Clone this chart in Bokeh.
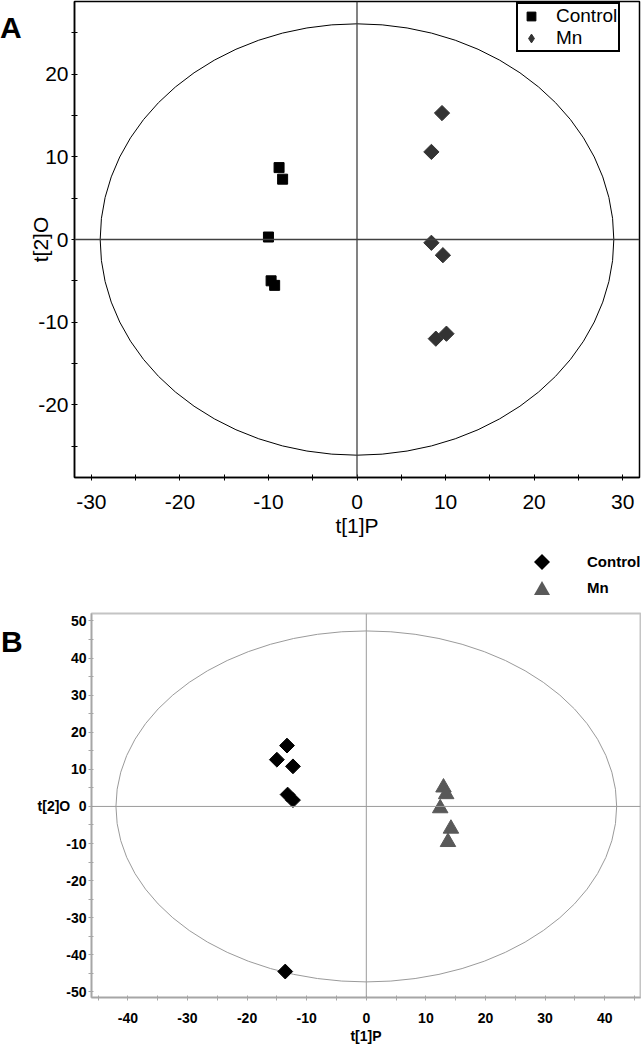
import math
from bokeh.plotting import figure
from bokeh.models import Range1d, FixedTicker, Span, Legend, LegendItem, Div
from bokeh.layouts import column, row
from bokeh.embed import file_html
from bokeh.resources import INLINE

# ---------------- Panel A data ----------------
a_control_x = [-8.8, -8.4, -10.0, -9.7, -9.3]
a_control_y = [8.7, 7.3, 0.3, -5.0, -5.55]
a_mn_x = [9.6, 8.4, 8.4, 9.7, 8.9, 10.1]
a_mn_y = [15.3, 10.6, -0.4, -1.9, -12.0, -11.4]
a_ellipse = [29.0, 26.1]          # semi-axes of Hotelling T2 ellipse
a_xticks = [-30, -20, -10, 0, 10, 20, 30]
a_xminor = [-25, -15, -5, 5, 15, 25]
a_yticks = [-20, -10, 0, 10, 20]
a_yminor = [-25, -15, -5, 5, 15, 25]

# ---------------- Panel B data ----------------
b_control_x = [-13.3, -15.0, -12.3, -13.2, -12.3, -13.6]
b_control_y = [16.4, 12.6, 10.8, 3.2, 1.7, -44.5]
b_mn_x = [12.95, 13.4, 12.4, 14.2, 13.7]
b_mn_y = [5.1, 3.3, -0.5, -6.0, -9.6]
b_ellipse = [42.0, 47.3]
b_xticks = [-40, -30, -20, -10, 0, 10, 20, 30, 40]
b_xminor = [-45, -35, -25, -15, -5, 5, 15, 25, 35, 45]
b_yticks = [-50, -40, -30, -20, -10, 0, 10, 20, 30, 40, 50]
b_yminor = [-45, -35, -25, -15, -5, 5, 15, 25, 35, 45]

FONT = "Liberation Sans"


def style_axis(ax, ticks, minor, color, tin, tout, size, bold):
    ax.ticker = FixedTicker(ticks=ticks, minor_ticks=minor)
    ax.major_label_overrides = {t: str(t) for t in ticks}
    ax.axis_line_color = color
    ax.axis_line_width = 1.5
    ax.major_tick_line_color = color
    ax.minor_tick_line_color = color
    ax.major_tick_in = tin
    ax.major_tick_out = tout
    ax.minor_tick_in = tin
    ax.minor_tick_out = tout
    ax.major_label_text_font = FONT
    ax.major_label_text_font_size = size
    ax.major_label_text_font_style = "bold" if bold else "normal"
    ax.major_label_text_color = "black"
    ax.axis_label_text_font = FONT
    ax.axis_label_text_font_size = size
    ax.axis_label_text_font_style = "bold" if bold else "normal"
    ax.axis_label_text_color = "black"


# ================= Panel A =================
pA = figure(width=615, height=545, x_range=Range1d(-31.9, 31.9), y_range=Range1d(-28.8, 28.8),
            output_backend="svg", toolbar_location=None,
            min_border_left=46, min_border_right=2, min_border_top=1, min_border_bottom=68)
pA.grid.visible = False
pA.outline_line_color = "black"
pA.outline_line_width = 1.5

style_axis(pA.xaxis[0], a_xticks, a_xminor, "black", 3, 3, "21px", False)
style_axis(pA.yaxis[0], a_yticks, a_yminor, "black", 3, 3, "21px", False)
pA.xaxis[0].major_label_standoff = 14
pA.xaxis[0].axis_label = "t[1]P"
pA.xaxis[0].axis_label_standoff = 2
pA.yaxis[0].major_label_standoff = 3
pA.yaxis[0].axis_label = "t[2]O"
pA.yaxis[0].axis_label_standoff = -17

pA.ellipse(x=[0], y=[0], width=[2 * a_ellipse[0]], height=[2 * a_ellipse[1]],
           fill_color=None, line_color="black", line_width=1)
pA.add_layout(Span(location=0, dimension="height", line_color="#404040", line_width=1.3))
pA.add_layout(Span(location=0, dimension="width", line_color="#404040", line_width=1.3))

rA_c = pA.scatter(a_control_x, a_control_y, marker="square", size=10, color="black")
# diamond-shaped key for the legend (sits hidden inside the rotated squares)
rA_m_key = pA.scatter(a_mn_x, a_mn_y, marker="diamond", size=10.8, color="#333333")
rA_m = pA.scatter(a_mn_x, a_mn_y, marker="square", angle=math.pi / 4, size=10.8, color="#333333")

legA = Legend(items=[LegendItem(label="Control", renderers=[rA_c]),
                     LegendItem(label="Mn", renderers=[rA_m_key])],
              location=(442, 425), orientation="vertical",
              border_line_color="black", border_line_width=2, border_line_alpha=1,
              background_fill_color="white", background_fill_alpha=1,
              padding=1, spacing=0, margin=0,
              glyph_width=24, glyph_height=22, label_standoff=13,
              label_width=58, label_height=20,
              label_text_font=FONT, label_text_font_size="19px", label_text_color="black")
pA.add_layout(legA)

divA = Div(width=26, height=545, margin=0,
           text='<svg width="26" height="545" style="display:block">'
                '<text x="0" y="38" font-family="Liberation Sans" font-weight="bold" '
                'font-size="30px" fill="black">A</text></svg>')

# ================= Panel B =================
has_orient = "axis_label_orientation" in figure().yaxis[0].properties()
left_w = 30 if has_orient else 62

pB = figure(width=641 - left_w, height=436, x_range=Range1d(-46.1, 46.0), y_range=Range1d(-51.5, 52.0),
            output_backend="svg", toolbar_location=None,
            min_border_left=91 - left_w, min_border_right=1, min_border_top=2, min_border_bottom=50)
pB.grid.visible = False
pB.outline_line_color = "#c4c4c4"
pB.outline_line_width = 2

style_axis(pB.xaxis[0], b_xticks, b_xminor, "#a6a6a6", 2, 3, "14px", True)
style_axis(pB.yaxis[0], b_yticks, b_yminor, "#a6a6a6", 2, 3, "14px", True)
pB.xaxis[0].major_label_standoff = 12
pB.xaxis[0].axis_label = "t[1]P"
pB.xaxis[0].axis_label_standoff = 2
pB.yaxis[0].major_label_standoff = 2

b_left_svg = ('<svg width="%d" height="436" style="display:block">'
              '<text x="1" y="41" font-family="Liberation Sans" font-weight="bold" '
              'font-size="30px" fill="black">B</text>' % left_w)
if has_orient:
    pB.yaxis[0].axis_label = "t[2]O"
    pB.yaxis[0].axis_label_orientation = "horizontal"
    pB.yaxis[0].axis_label_standoff = -7
else:
    b_left_svg += ('<text x="24" y="179" font-family="Liberation Sans" font-weight="bold" '
                   'font-size="14px" fill="black">t[2]O</text>')
b_left_svg += '</svg>'
divB = Div(width=left_w, height=436, margin=0, text=b_left_svg)

pB.ellipse(x=[0], y=[0], width=[2 * b_ellipse[0]], height=[2 * b_ellipse[1]],
           fill_color=None, line_color="#9a9a9a", line_width=1)
pB.add_layout(Span(location=0, dimension="height", line_color="#9a9a9a", line_width=1))
pB.add_layout(Span(location=0, dimension="width", line_color="#9a9a9a", line_width=1))

pB.scatter(b_control_x, b_control_y, marker="square", angle=math.pi / 4, size=10.5, color="black")
pB.scatter(b_mn_x, b_mn_y, marker="triangle", size=15.5, color="#595959")

legend_b = Div(width=641, height=66, margin=0,
               text='<svg width="641" height="66" style="display:block">'
                    '<polygon points="542,9 550,17 542,25 534,17" fill="black"/>'
                    '<polygon points="542,36 550,50 534,50" fill="#595959"/>'
                    '<text x="587" y="22" font-family="Liberation Sans" font-weight="bold" '
                    'font-size="15px" fill="black">Control</text>'
                    '<text x="587" y="48" font-family="Liberation Sans" font-weight="bold" '
                    'font-size="15px" fill="black">Mn</text></svg>')

rootA = row(divA, pA, spacing=0)
rootB = column(legend_b, row(divB, pB, spacing=0), spacing=0)
open("out.html", "w").write(file_html([rootA, rootB], INLINE))
